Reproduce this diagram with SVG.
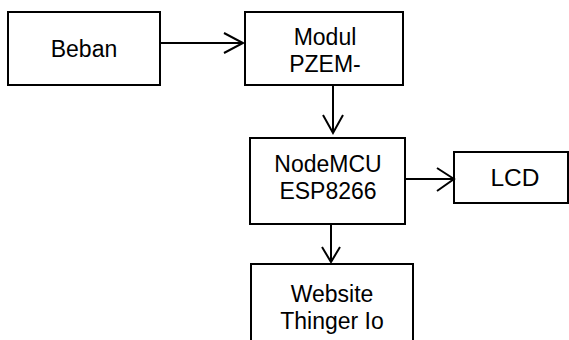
<svg xmlns="http://www.w3.org/2000/svg" width="569" height="340" viewBox="0 0 569 340">
<style>
.box{fill:#fff;stroke:#000;stroke-width:2}
.t{font-family:"Liberation Sans",Arial,sans-serif;font-size:23px;fill:#000;text-anchor:middle}
.c{fill:none;stroke:#000;stroke-width:2}
</style>
<rect width="569" height="340" fill="#fff"/>
<g id="beban"><rect class="box" x="8" y="12" width="152" height="73"/><text class="t" x="84" y="57">Beban</text></g>
<g id="modul"><rect class="box" x="245" y="12" width="158" height="73"/><text class="t" x="325" y="45">Modul</text><text class="t" x="325" y="72">PZEM-</text></g>
<g id="nodemcu"><rect class="box" x="250" y="138" width="155" height="86"/><text class="t" x="328" y="172">NodeMCU</text><text class="t" x="328" y="199">ESP8266</text></g>
<g id="lcd"><rect class="box" x="454" y="152" width="114" height="51"/><text class="t" x="515" y="186" style="font-size:24.5px">LCD</text></g>
<g id="website"><rect class="box" x="251" y="264" width="162" height="90"/><text class="t" x="332" y="302">Website</text><text class="t" x="332" y="329">Thinger Io</text></g>
<g id="connectors">
<path class="c" d="M160 43H243M224 33L243 43L224 53"/>
<path class="c" d="M333 85V133M323 115L333 133L343 115"/>
<path class="c" d="M405 179H454M437 168L454 179L437 191"/>
<path class="c" d="M331 224V262M322 247L331 262L340 247"/>
</g>
</svg>
